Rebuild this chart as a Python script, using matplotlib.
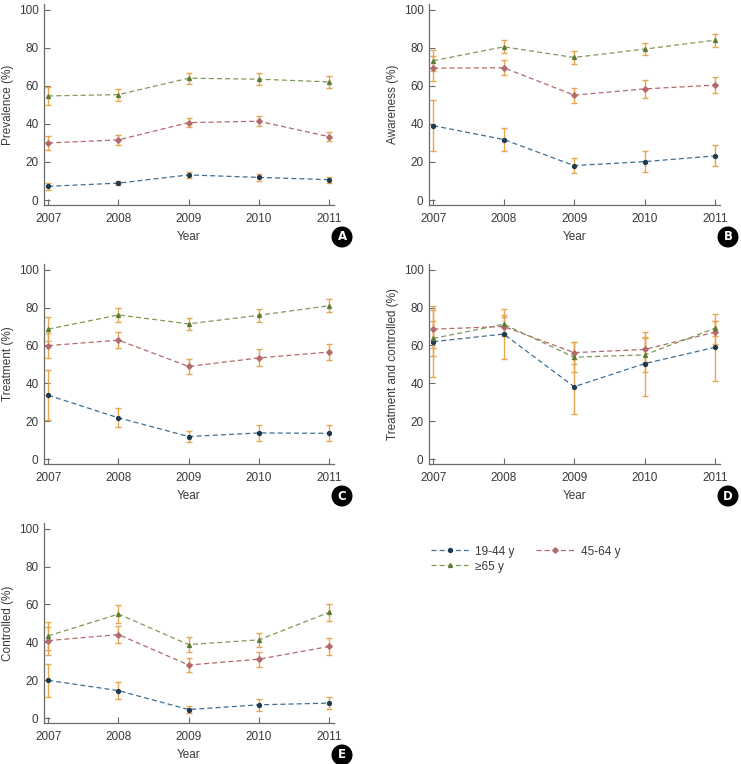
import numpy as np
import matplotlib
matplotlib.use("Agg")
import matplotlib.pyplot as plt

plt.rcParams['font.family'] = ['Liberation Sans', 'DejaVu Sans']

years = [2007, 2008, 2009, 2010, 2011]
groups = ['19-44 y', '45-64 y', '\u226565 y']

# valores (media, error)
prev = {'19-44 y': [7.2, 8.9, 13.2, 11.9, 10.7],
        '45-64 y': [30.0, 31.6, 40.7, 41.4, 33.3],
        '\u226565 y': [54.7, 55.4, 64.0, 63.5, 62.1]}
prev_err = {'19-44 y': [1.8, 1.2, 1.8, 1.7, 1.5],
            '45-64 y': [3.8, 2.5, 2.4, 2.6, 2.4],
            '\u226565 y': [4.6, 3.2, 3.0, 3.2, 3.0]}

aware = {'19-44 y': [39.1, 31.8, 18.1, 20.2, 23.2],
         '45-64 y': [69.3, 69.5, 55.1, 58.4, 60.4],
         '\u226565 y': [73.2, 80.5, 74.9, 79.3, 84.0]}
aware_err = {'19-44 y': [13.4, 6.1, 3.9, 5.6, 5.5],
             '45-64 y': [6.5, 3.9, 3.9, 4.6, 4.2],
             '\u226565 y': [5.5, 3.5, 3.3, 3.3, 3.5]}

treat = {'19-44 y': [33.7, 21.8, 11.9, 13.8, 13.6],
         '45-64 y': [59.9, 62.8, 48.9, 53.4, 56.5],
         '\u226565 y': [68.6, 76.1, 71.4, 75.9, 81.0]}
treat_err = {'19-44 y': [13.3, 5.1, 3.1, 4.4, 4.2],
             '45-64 y': [6.5, 4.4, 3.9, 4.5, 4.1],
             '\u226565 y': [6.3, 3.8, 3.1, 3.4, 3.6]}

tc = {'19-44 y': [62.0, 66.0, 38.2, 50.4, 59.0],
      '45-64 y': [68.6, 70.0, 56.2, 57.9, 67.0],
      '\u226565 y': [63.7, 71.2, 53.8, 55.0, 69.1]}
tc_err = {'19-44 y': [18.7, 13.0, 14.6, 16.9, 17.7],
          '45-64 y': [10.0, 5.0, 5.8, 6.5, 6.0],
          '\u226565 y': [9.2, 5.0, 7.8, 9.0, 4.0]}

ctrl = {'19-44 y': [19.9, 14.5, 4.5, 7.0, 7.9],
        '45-64 y': [40.9, 44.1, 28.0, 31.1, 37.8],
        '\u226565 y': [43.4, 54.9, 38.8, 41.3, 55.8]}
ctrl_err = {'19-44 y': [8.8, 4.5, 2.0, 3.3, 3.0],
            '45-64 y': [7.4, 4.4, 3.8, 3.9, 4.3],
            '\u226565 y': [7.3, 4.6, 4.0, 3.8, 4.3]}

line_colors = {'19-44 y': '#3f6f92', '45-64 y': '#b46a6c', '\u226565 y': '#7f9a55'}
marker_colors = {'19-44 y': '#1f3a4f', '45-64 y': '#b46a6c', '\u226565 y': '#5f7a35'}
markers = {'19-44 y': 'o', '45-64 y': 'D', '\u226565 y': '^'}
err_color = '#e6a650'
spine_color = '#6a6a6a'
text_color = '#3a3a3a'

fig = plt.figure(figsize=(7.41, 7.64), dpi=100)

def axes_px(x0, x1, y0, y1):
    return fig.add_axes([x0 / 741, 1 - y1 / 764, (x1 - x0) / 741, (y1 - y0) / 764])

paneles = [
    (prev, prev_err, 'Prevalence (%)', 'A', (44, 334, 4, 205)),
    (aware, aware_err, 'Awareness (%)', 'B', (429, 720, 4, 205)),
    (treat, treat_err, 'Treatment (%)', 'C', (44, 334, 264, 464)),
    (tc, tc_err, 'Treatment and controlled (%)', 'D', (429, 720, 264, 464)),
    (ctrl, ctrl_err, 'Controlled (%)', 'E', (44, 334, 523, 723)),
]

handles = {}
for datos, errores, ylabel, letra, pos in paneles:
    ax = axes_px(*pos)
    for g in groups:
        ax.errorbar(years, datos[g], yerr=errores[g], fmt='none', ecolor=err_color,
                    elinewidth=1.0, capsize=2.5, capthick=1.0, zorder=2)
        h, = ax.plot(years, datos[g], linestyle=(0, (4, 2.5)), linewidth=0.9,
                     color=line_colors[g], marker=markers[g], markersize=2.8,
                     markerfacecolor=marker_colors[g], markeredgecolor=marker_colors[g],
                     zorder=3, label=g)
        handles[g] = h
    ax.set_xlim(2006.94, 2011.07)
    ax.set_ylim(-2.6, 103)
    ax.set_xticks(years)
    ax.set_yticks([0, 20, 40, 60, 80, 100])
    for s in ['top', 'right']:
        ax.spines[s].set_visible(False)
    for s in ['left', 'bottom']:
        ax.spines[s].set_color(spine_color)
        ax.spines[s].set_linewidth(0.9)
    ax.tick_params(direction='in', length=4, width=0.8, color=spine_color,
                   labelsize=8.5, labelcolor=text_color)
    ax.tick_params(axis='x', pad=6)
    ax.tick_params(axis='y', pad=4)
    ax.set_ylabel(ylabel, fontsize=8.5, color=text_color, labelpad=3)
    ax.set_xlabel('Year', fontsize=8.5, color=text_color, labelpad=4)
    # circulo con la letra del panel
    ax.annotate(letra, xy=(1.0, 0), xycoords='axes fraction', xytext=(8, -32),
                textcoords='offset pixels', ha='center', va='center',
                fontsize=8.5, fontweight='bold', color='white', family=['DejaVu Sans'],
                bbox=dict(boxstyle='circle,pad=0.28', fc='black', ec='black'))

fig.legend([handles[groups[0]], handles[groups[2]], handles[groups[1]]],
           [groups[0], groups[2], groups[1]], ncol=2, frameon=False,
           loc='upper left', bbox_to_anchor=(420 / 741, 1 - 535 / 764),
           fontsize=8.5, handlelength=3.2, columnspacing=1.8, labelspacing=0.25,
           handletextpad=0.6, labelcolor=text_color)

fig.savefig('out.png', dpi=100)
